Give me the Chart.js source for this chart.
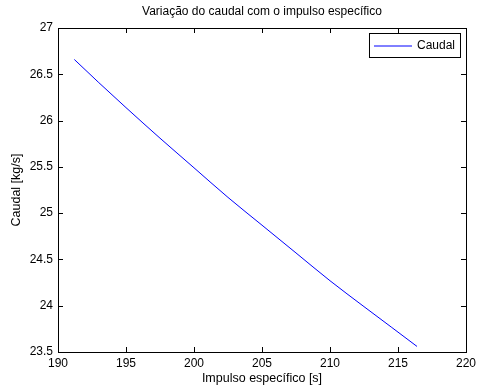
<!DOCTYPE html>
<html>
<head>
<meta charset="utf-8">
<script src="https://cdn.jsdelivr.net/npm/chart.js@4/dist/chart.umd.min.js"></script>
<style>
  html, body { margin: 0; padding: 0; background: #fff; }
  #wrap { width: 480px; height: 389px; }
</style>
</head>
<body>
<div id="wrap"><canvas id="caudalChart"></canvas></div>
<script>
// valores
const impulso = [191.2, 193, 195, 197.5, 200, 202.5, 205, 207.5, 210, 212.5, 214.5, 216.4];
const caudal = [26.66, 26.41, 26.14, 25.81, 25.49, 25.17, 24.87, 24.57, 24.27, 23.99, 23.77, 23.56];
const xTicks = [190, 195, 200, 205, 210, 215, 220];
const yTicks = [23.5, 24, 24.5, 25, 25.5, 26, 26.5, 27];
const titulo = 'Variação do caudal com o impulso específico';

const FONT = 'Arial, "Liberation Sans", Helvetica, sans-serif';

// título, caixa dos eixos, marcas para dentro e legenda (estilo MATLAB)
const matlabAxes = {
    id: 'matlabAxes',
    afterDraw(chart) {
        const { ctx, chartArea: a, scales } = chart;
        const tl = 5;
        ctx.save();
        ctx.fillStyle = '#000';
        ctx.font = '12px ' + FONT;
        ctx.textAlign = 'center';
        ctx.textBaseline = 'middle';
        ctx.fillText(titulo, (a.left + a.right) / 2, 12);

        ctx.strokeStyle = '#000';
        ctx.lineWidth = 1;
        ctx.beginPath();
        xTicks.forEach(v => {
            const px = Math.round(scales.x.getPixelForValue(v)) + 0.5;
            ctx.moveTo(px, a.bottom); ctx.lineTo(px, a.bottom - tl);
            ctx.moveTo(px, a.top); ctx.lineTo(px, a.top + tl);
        });
        yTicks.forEach(v => {
            const py = Math.round(scales.y.getPixelForValue(v)) + 0.5;
            ctx.moveTo(a.left, py); ctx.lineTo(a.left + tl, py);
            ctx.moveTo(a.right, py); ctx.lineTo(a.right - tl, py);
        });
        ctx.stroke();
        ctx.strokeRect(Math.round(a.left) + 0.5, Math.round(a.top) + 0.5,
            Math.round(a.right - a.left), Math.round(a.bottom - a.top));

        // legenda
        const ds = chart.data.datasets[0];
        const bx = a.right - 97, by = a.top + 5, bw = 91, bh = 24;
        ctx.fillStyle = '#fff';
        ctx.fillRect(bx, by, bw, bh);
        ctx.strokeRect(bx + 0.5, by + 0.5, bw, bh);
        ctx.strokeStyle = ds.borderColor;
        ctx.beginPath();
        ctx.moveTo(bx + 5, by + bh / 2 + 1);
        ctx.lineTo(bx + 43, by + bh / 2 + 1);
        ctx.stroke();
        ctx.fillStyle = '#000';
        ctx.textAlign = 'left';
        ctx.fillText(ds.label, bx + 48, by + bh / 2 + 1);
        ctx.restore();
    }
};

new Chart(document.getElementById('caudalChart').getContext('2d'), {
    type: 'line',
    data: {
        datasets: [{
            label: 'Caudal',
            data: impulso.map((x, i) => ({ x: x, y: caudal[i] })),
            borderColor: 'rgb(0, 0, 255)',
            borderWidth: 1,
            pointRadius: 0,
            cubicInterpolationMode: 'monotone',
            fill: false
        }]
    },
    options: {
        responsive: true,
        maintainAspectRatio: false,
        animation: false,
        layout: { padding: { top: 28, right: 11, bottom: 0, left: 0 } },
        plugins: {
            legend: { display: false },
            tooltip: { enabled: false },
            title: { display: false }
        },
        scales: {
            x: {
                type: 'linear',
                min: 190,
                max: 220,
                afterBuildTicks: s => { s.ticks = xTicks.map(v => ({ value: v })); },
                afterFit: s => { s.height = 37; },
                grid: { display: false, drawTicks: false },
                border: { display: false },
                ticks: { color: '#000', padding: 4, font: { family: FONT, size: 12 }, callback: v => String(v) },
                title: {
                    display: true,
                    text: 'Impulso específico [s]',
                    color: '#000',
                    font: { family: FONT, size: 12.5 },
                    padding: { top: 0, bottom: 3 }
                }
            },
            y: {
                type: 'linear',
                min: 23.5,
                max: 27,
                afterBuildTicks: s => { s.ticks = yTicks.map(v => ({ value: v })); },
                afterFit: s => { s.width = 58; },
                grid: { display: false, drawTicks: false },
                border: { display: false },
                ticks: { color: '#000', padding: 5, font: { family: FONT, size: 12 }, callback: v => String(v) },
                title: {
                    display: true,
                    text: 'Caudal [kg/s]',
                    color: '#000',
                    font: { family: FONT, size: 12.5 },
                    padding: { top: 9, bottom: 0 }
                }
            }
        }
    },
    plugins: [matlabAxes]
});
</script>
</body>
</html>
